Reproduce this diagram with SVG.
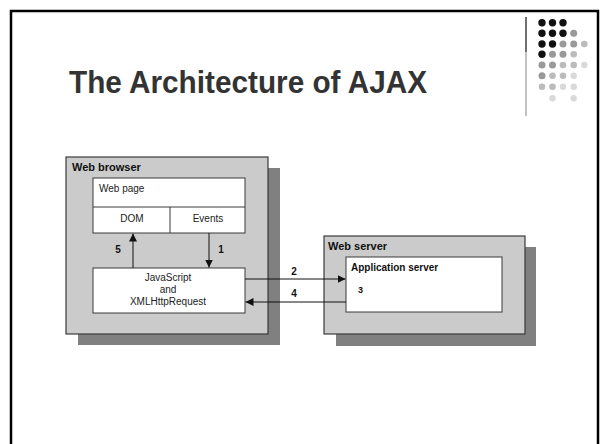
<svg xmlns="http://www.w3.org/2000/svg" width="600" height="444" viewBox="0 0 600 444">
<defs>
<style>
.frame{fill:#fff;stroke:#000;stroke-width:2.5}
.outer{fill:#cbcbcb;stroke:#3a3a3a;stroke-width:1.2}
.shadow{fill:#808080}
.inner{fill:#fff;stroke:#3a3a3a;stroke-width:1}
.lbl{font-family:"Liberation Sans",Arial,sans-serif;font-size:11px;font-weight:bold;fill:#111}
.txt{font-family:"Liberation Sans",Arial,sans-serif;font-size:10px;fill:#222}
.num{font-family:"Liberation Sans",Arial,sans-serif;font-size:10px;font-weight:bold;fill:#111}
.conn{stroke:#111;stroke-width:1;fill:none;marker-end:url(#ah)}
.d1{fill:#111}.d2{fill:#999}.d3{fill:#bbb}.d4{fill:#d9d9d9}
</style>
<marker id="ah" viewBox="0 0 10 10" refX="10" refY="5" markerWidth="8" markerHeight="8" markerUnits="userSpaceOnUse" orient="auto">
<path d="M0,0 L10,5 L0,10 z" fill="#111"/>
</marker>
</defs>
<rect width="600" height="444" fill="#fff"/>
<rect class="frame" x="11" y="11" width="587" height="470"/>
<g id="decor">
<line x1="526" y1="17" x2="526" y2="52" stroke="#111" stroke-width="1.2"/>
<line x1="526" y1="52" x2="526" y2="116" stroke="#999" stroke-width="1.2"/>
<circle class="d1" cx="542" cy="22.7" r="3.7"/><circle class="d1" cx="552.5" cy="22.7" r="3.7"/><circle class="d1" cx="563" cy="22.7" r="3.7"/>
<circle class="d1" cx="542" cy="33.3" r="3.7"/><circle class="d1" cx="552.5" cy="33.3" r="3.7"/><circle class="d1" cx="563" cy="33.3" r="3.7"/><circle class="d2" cx="573.7" cy="33.3" r="3.5"/>
<circle class="d1" cx="542" cy="44" r="3.7"/><circle class="d1" cx="552.5" cy="44" r="3.7"/><circle class="d2" cx="563" cy="44" r="3.5"/><circle class="d2" cx="573.7" cy="44" r="3.5"/><circle class="d3" cx="584.3" cy="44" r="3.3"/>
<circle class="d1" cx="542" cy="54.3" r="3.7"/><circle class="d2" cx="552.5" cy="54.3" r="3.5"/><circle class="d2" cx="563" cy="54.3" r="3.5"/><circle class="d3" cx="573.7" cy="54.3" r="3.3"/>
<circle class="d2" cx="542" cy="65" r="3.5"/><circle class="d2" cx="552.5" cy="65" r="3.5"/><circle class="d3" cx="563" cy="65" r="3.3"/><circle class="d3" cx="573.7" cy="65" r="3.3"/><circle class="d4" cx="584.3" cy="65" r="3.2"/>
<circle class="d2" cx="542" cy="75.7" r="3.5"/><circle class="d3" cx="552.5" cy="75.7" r="3.3"/><circle class="d3" cx="563" cy="75.7" r="3.3"/><circle class="d4" cx="573.7" cy="75.7" r="3.2"/>
<circle class="d3" cx="542" cy="86.7" r="3.3"/><circle class="d3" cx="552.5" cy="86.7" r="3.3"/><circle class="d4" cx="563" cy="86.7" r="3.2"/><circle class="d4" cx="573.7" cy="86.7" r="3.2"/>
<circle class="d4" cx="552.5" cy="98.3" r="3.2"/><circle class="d4" cx="573.7" cy="98.3" r="3.2"/>
</g>
<text x="69" y="93" font-family="'Liberation Sans',Arial,sans-serif" font-size="31" font-weight="bold" fill="#333" textLength="358" lengthAdjust="spacingAndGlyphs">The Architecture of AJAX</text>
<g id="web-browser">
<rect class="shadow" x="78" y="168" width="202" height="177"/>
<rect class="outer" x="66" y="157" width="202" height="177"/>
<text class="lbl" x="72" y="171">Web browser</text>
</g>
<g id="web-page">
<rect class="inner" x="93" y="178" width="152" height="55"/>
<line x1="93" y1="207" x2="245" y2="207" stroke="#3a3a3a" stroke-width="1"/>
<line x1="170" y1="207" x2="170" y2="233" stroke="#3a3a3a" stroke-width="1"/>
<text class="txt" x="99" y="192">Web page</text>
<text class="txt" x="132" y="222" text-anchor="middle">DOM</text>
<text class="txt" x="208" y="222" text-anchor="middle">Events</text>
</g>
<g id="javascript">
<rect class="inner" x="93" y="268" width="152" height="45"/>
<text class="txt" x="168" y="281" text-anchor="middle">JavaScript</text>
<text class="txt" x="168" y="293" text-anchor="middle">and</text>
<text class="txt" x="168" y="305" text-anchor="middle">XMLHttpRequest</text>
</g>
<g id="web-server">
<rect class="shadow" x="336" y="247" width="200" height="99"/>
<rect class="outer" x="324" y="236" width="201" height="98"/>
<text class="lbl" x="328" y="250">Web server</text>
</g>
<g id="application-server">
<rect class="inner" x="346" y="257" width="156" height="55"/>
<text class="lbl" x="351" y="271" style="font-size:10px">Application server</text>
<text class="num" x="358" y="293" style="font-size:9px">3</text>
</g>
<g id="connectors">
<line class="conn" x1="133" y1="268" x2="133" y2="233.5"/>
<line class="conn" x1="209" y1="233" x2="209" y2="267.5"/>
<line class="conn" x1="245" y1="279" x2="345.5" y2="279"/>
<line class="conn" x1="346" y1="302" x2="245.5" y2="302"/>
<text class="num" x="118" y="253" text-anchor="middle">5</text>
<text class="num" x="221" y="253" text-anchor="middle">1</text>
<text class="num" x="294" y="275" text-anchor="middle">2</text>
<text class="num" x="294" y="297" text-anchor="middle">4</text>
</g>
</svg>
